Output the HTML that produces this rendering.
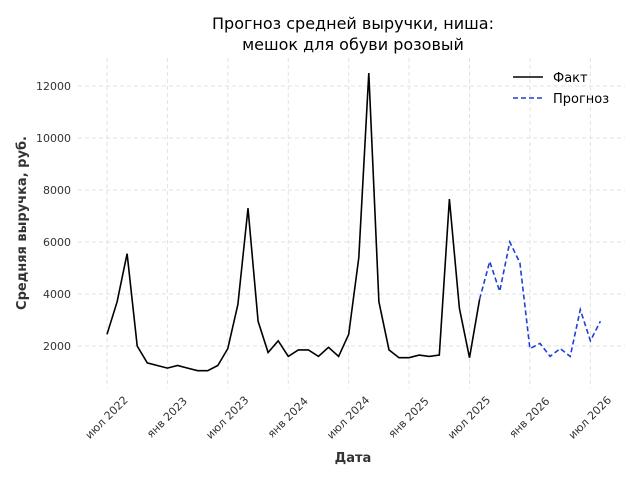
<!DOCTYPE html>
<html><head><meta charset="utf-8">
<style>
body{margin:0;background:#fff;font-family:"Liberation Sans","DejaVu Sans",sans-serif;}
svg text{font-family:"DejaVu Sans","Liberation Sans",sans-serif;}
</style></head>
<body>
<svg width="640" height="480" id="c">
<text x="353" y="29" text-anchor="middle" font-size="16" fill="#000">Прогноз средней выручки, ниша:</text>
<text x="353" y="50" text-anchor="middle" font-size="16" fill="#000">мешок для обуви розовый</text>
<g id="grid"></g>
<g id="yt"></g>
<g id="xt"></g>
<path id="fact" fill="none" stroke="#000" stroke-width="1.6"/>
<path id="fc" fill="none" stroke="#1f3fd6" stroke-width="1.6" stroke-dasharray="5,3"/>
<text x="353" y="462" text-anchor="middle" font-size="13" font-weight="bold" fill="#333">Дата</text>
<text transform="translate(26,223) rotate(-90)" text-anchor="middle" font-size="13" font-weight="bold" fill="#333">Средняя выручка, руб.</text>
<g>
<line x1="513" y1="77" x2="543" y2="77" stroke="#000" stroke-width="1.6"/>
<text x="553" y="82" font-size="13">Факт</text>
<line x1="513" y1="98" x2="543" y2="98" stroke="#1f3fd6" stroke-width="1.6" stroke-dasharray="5,3"/>
<text x="553" y="103" font-size="13">Прогноз</text>
</g>
</svg>
<script>
const factStart = [2022, 7];
const factValues = [2450,3700,5550,2000,1350,1250,1150,1250,1150,1050,1050,1250,1900,3600,7300,2950,1750,2200,1600,1850,1850,1600,1950,1600,2450,5400,12500,3700,1850,1550,1550,1650,1600,1650,7650,3450,1550,3800];
const forecastStart = [2025, 8];
const forecastValues = [3800,5250,4100,6000,5200,1900,2100,1600,1900,1600,3400,2200,2950];
const yTicks = [2000,4000,6000,8000,10000,12000];
const xTickLabels = ["июл 2022","янв 2023","июл 2023","янв 2024","июл 2024","янв 2025","июл 2025","янв 2026","июл 2026"];
const xTickMonths = [[2022,7],[2023,1],[2023,7],[2024,1],[2024,7],[2025,1],[2025,7],[2026,1],[2026,7]];
const NS="http://www.w3.org/2000/svg";
function xs(y,m){return 107+((y-2022)*12+(m-7))*10.07;}
function ys(v){return 346-(v-2000)*0.026;}
function pts(start,vals){return vals.map((v,i)=>{const mi=start[1]-1+i;return [xs(start[0]+Math.floor(mi/12),mi%12+1),ys(v)];});}
function d(p){return p.map((q,i)=>(i?'L':'M')+q[0].toFixed(1)+','+q[1].toFixed(1)).join(' ');}
document.getElementById('fact').setAttribute('d',d(pts(factStart,factValues)));
document.getElementById('fc').setAttribute('d',d(pts(forecastStart,forecastValues)));
const g=document.getElementById('grid'),yt=document.getElementById('yt'),xt=document.getElementById('xt');
yTicks.forEach(v=>{
 const l=document.createElementNS(NS,'line');
 
 
 l.setAttribute('x1',78);l.setAttribute('x2',625);l.setAttribute('y1',ys(v));l.setAttribute('y2',ys(v));
 l.setAttribute('stroke','#e2e2e2');l.setAttribute('stroke-dasharray','4,3');g.appendChild(l);
 const t=document.createElementNS(NS,'text');
 
 
 t.setAttribute('x',71);t.setAttribute('y',ys(v)+4);t.setAttribute('text-anchor','end');t.setAttribute('font-size','11');t.setAttribute('fill','#333');
 t.textContent=v;yt.appendChild(t);
});
xTickMonths.forEach((ym,i)=>{
 const x=xs(ym[0],ym[1]);
 const l=document.createElementNS(NS,'line');
 
 
 l.setAttribute('x1',x);l.setAttribute('x2',x);l.setAttribute('y1',58);l.setAttribute('y2',388);
 l.setAttribute('stroke','#e2e2e2');l.setAttribute('stroke-dasharray','4,3');g.appendChild(l);
 const t=document.createElementNS(NS,'text');
 
 
 t.setAttribute('transform','translate('+x+',418) rotate(-45)');t.setAttribute('text-anchor','middle');t.setAttribute('dominant-baseline','middle');t.setAttribute('font-size','11');t.setAttribute('fill','#333');
 t.textContent=xTickLabels[i];xt.appendChild(t);
});
</script>
</body></html>
